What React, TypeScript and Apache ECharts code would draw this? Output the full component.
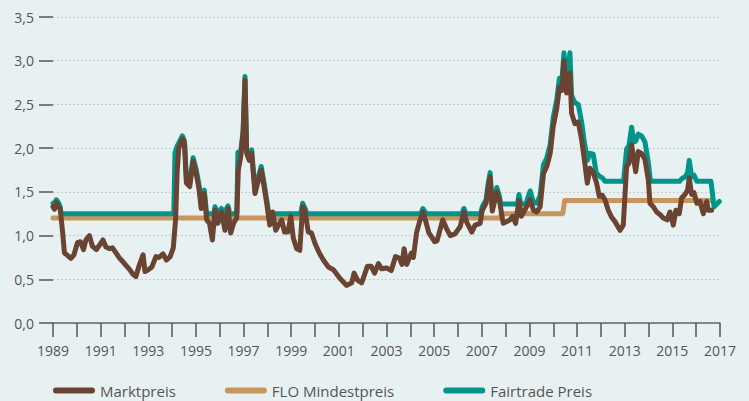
import React, { useEffect, useRef } from "react";
import * as echarts from "echarts";

const yearTicks = [1989, 1991, 1993, 1995, 1997, 1999, 2001, 2003, 2005, 2007, 2009, 2011, 2013, 2015, 2017];

const marktpreis: [number, number][] = [
  [1989.0, 1.33], [1989.06, 1.3], [1989.14, 1.38], [1989.22, 1.33], [1989.3, 1.31], [1989.4, 1.05],
  [1989.48, 0.8], [1989.58, 0.78], [1989.75, 0.74], [1989.88, 0.78], [1990.03, 0.92], [1990.15, 0.93],
  [1990.28, 0.84], [1990.38, 0.95], [1990.53, 1.0], [1990.65, 0.88], [1990.82, 0.84], [1990.95, 0.89],
  [1991.1, 0.95], [1991.22, 0.87], [1991.38, 0.85], [1991.5, 0.86], [1991.65, 0.8], [1991.8, 0.74],
  [1992.0, 0.68], [1992.22, 0.61], [1992.35, 0.56], [1992.48, 0.53], [1992.62, 0.66], [1992.78, 0.78],
  [1992.86, 0.59], [1993.0, 0.61], [1993.15, 0.64], [1993.32, 0.76], [1993.45, 0.75], [1993.62, 0.79],
  [1993.76, 0.72], [1993.92, 0.76], [1994.05, 0.86], [1994.15, 1.2], [1994.21, 1.72], [1994.28, 2.0],
  [1994.43, 2.11], [1994.52, 2.05], [1994.6, 1.6], [1994.74, 1.56], [1994.88, 1.85], [1995.0, 1.72],
  [1995.12, 1.55], [1995.22, 1.31], [1995.35, 1.48], [1995.45, 1.18], [1995.57, 1.14], [1995.69, 0.95],
  [1995.8, 1.29], [1995.92, 1.14], [1996.07, 1.27], [1996.22, 1.06], [1996.35, 1.31], [1996.46, 1.03],
  [1996.58, 1.14], [1996.71, 1.2], [1996.78, 1.75], [1996.88, 1.9], [1996.98, 2.17], [1997.06, 2.78],
  [1997.13, 1.94], [1997.24, 1.86], [1997.34, 1.94], [1997.48, 1.48], [1997.58, 1.59], [1997.74, 1.75],
  [1997.86, 1.56], [1997.97, 1.37], [1998.1, 1.12], [1998.22, 1.27], [1998.35, 1.06], [1998.47, 1.12],
  [1998.6, 1.18], [1998.72, 1.04], [1998.86, 1.04], [1998.98, 1.22], [1999.09, 0.97], [1999.23, 0.85],
  [1999.36, 0.83], [1999.48, 1.33], [1999.58, 1.27], [1999.72, 1.04], [1999.85, 1.03], [2000.0, 0.91],
  [2000.18, 0.8], [2000.35, 0.72], [2000.56, 0.64], [2000.77, 0.61], [2001.05, 0.51], [2001.33, 0.43],
  [2001.54, 0.46], [2001.64, 0.57], [2001.78, 0.49], [2001.96, 0.46], [2002.2, 0.65], [2002.35, 0.65],
  [2002.5, 0.57], [2002.66, 0.68], [2002.8, 0.62], [2003.0, 0.63], [2003.2, 0.6], [2003.38, 0.76],
  [2003.55, 0.74], [2003.65, 0.67], [2003.74, 0.85], [2003.85, 0.67], [2004.04, 0.8], [2004.13, 0.75],
  [2004.26, 1.03], [2004.4, 1.17], [2004.53, 1.27], [2004.64, 1.17], [2004.78, 1.03], [2005.02, 0.93],
  [2005.12, 0.94], [2005.36, 1.18], [2005.52, 1.08], [2005.68, 1.0], [2005.88, 1.02], [2006.09, 1.1],
  [2006.25, 1.27], [2006.37, 1.15], [2006.58, 1.04], [2006.72, 1.12], [2006.93, 1.14], [2007.02, 1.29],
  [2007.18, 1.37], [2007.27, 1.55], [2007.35, 1.67], [2007.44, 1.28], [2007.63, 1.5], [2007.74, 1.4],
  [2007.9, 1.14], [2008.05, 1.16], [2008.19, 1.18], [2008.3, 1.22], [2008.42, 1.14], [2008.56, 1.4],
  [2008.66, 1.22], [2008.8, 1.29], [2009.03, 1.41], [2009.17, 1.29], [2009.31, 1.27], [2009.45, 1.33],
  [2009.59, 1.71], [2009.73, 1.79], [2009.87, 1.94], [2010.0, 2.25], [2010.15, 2.46], [2010.26, 2.7],
  [2010.36, 2.66], [2010.45, 3.0], [2010.56, 2.63], [2010.7, 2.86], [2010.77, 2.4], [2010.91, 2.28],
  [2011.05, 2.3], [2011.19, 2.1], [2011.3, 1.88], [2011.43, 1.6], [2011.54, 1.77], [2011.68, 1.72],
  [2011.82, 1.6], [2011.93, 1.45], [2012.06, 1.46], [2012.17, 1.41], [2012.31, 1.29], [2012.45, 1.21],
  [2012.59, 1.16], [2012.8, 1.06], [2012.94, 1.12], [2013.08, 1.79], [2013.18, 1.83], [2013.29, 2.04],
  [2013.38, 1.87], [2013.46, 1.73], [2013.57, 1.96], [2013.71, 1.94], [2013.85, 1.87], [2013.99, 1.64],
  [2014.06, 1.37], [2014.2, 1.33], [2014.34, 1.27], [2014.48, 1.24], [2014.62, 1.2], [2014.78, 1.18],
  [2014.9, 1.27], [2015.04, 1.12], [2015.15, 1.29], [2015.29, 1.25], [2015.39, 1.43], [2015.53, 1.47],
  [2015.64, 1.52], [2015.71, 1.66], [2015.81, 1.47], [2015.91, 1.49], [2016.03, 1.37], [2016.16, 1.39],
  [2016.3, 1.25], [2016.44, 1.39], [2016.51, 1.29], [2016.65, 1.29],
];

const floMindestpreis: [number, number][] = [
  [1989.0, 1.2], [2007.76, 1.2], [2007.82, 1.25], [2010.4, 1.25], [2010.48, 1.4], [2016.65, 1.4],
];

const fairtradePreis: [number, number][] = [
  [1989.0, 1.37], [1989.06, 1.35], [1989.14, 1.41], [1989.24, 1.37], [1989.3, 1.33], [1989.34, 1.25],
  [1994.07, 1.25], [1994.12, 1.95], [1994.21, 2.02], [1994.3, 2.07], [1994.43, 2.14], [1994.52, 2.08],
  [1994.6, 1.65], [1994.74, 1.61], [1994.88, 1.89], [1995.0, 1.77], [1995.12, 1.6], [1995.22, 1.38],
  [1995.35, 1.52], [1995.45, 1.25], [1995.75, 1.25], [1995.8, 1.33], [1995.92, 1.25], [1996.07, 1.31],
  [1996.16, 1.25], [1996.35, 1.34], [1996.42, 1.25], [1996.72, 1.25], [1996.76, 1.95], [1996.88, 1.96],
  [1996.98, 2.2], [1997.06, 2.82], [1997.13, 1.98], [1997.24, 1.9], [1997.34, 1.98], [1997.48, 1.52],
  [1997.58, 1.63], [1997.74, 1.79], [1997.86, 1.6], [1997.97, 1.41], [1998.06, 1.25], [1999.4, 1.25],
  [1999.48, 1.37], [1999.58, 1.31], [1999.66, 1.25], [2004.44, 1.25], [2004.53, 1.31], [2004.62, 1.27],
  [2004.7, 1.25], [2006.17, 1.25], [2006.25, 1.31], [2006.33, 1.25], [2006.95, 1.25], [2007.02, 1.33],
  [2007.18, 1.41], [2007.27, 1.6], [2007.35, 1.72], [2007.44, 1.33], [2007.63, 1.55], [2007.74, 1.45],
  [2007.8, 1.36], [2008.5, 1.36], [2008.56, 1.47], [2008.64, 1.36], [2008.85, 1.36], [2009.03, 1.51],
  [2009.17, 1.38], [2009.31, 1.37], [2009.45, 1.46], [2009.59, 1.81], [2009.73, 1.89], [2009.87, 2.04],
  [2010.0, 2.35], [2010.15, 2.56], [2010.26, 2.8], [2010.36, 2.76], [2010.45, 3.09], [2010.56, 2.73],
  [2010.7, 3.09], [2010.77, 2.6], [2010.91, 2.52], [2011.05, 2.5], [2011.19, 2.3], [2011.3, 2.08],
  [2011.43, 1.86], [2011.54, 1.94], [2011.68, 1.93], [2011.8, 1.72], [2011.93, 1.68], [2012.06, 1.66],
  [2012.17, 1.62], [2012.95, 1.62], [2013.08, 1.99], [2013.18, 2.03], [2013.29, 2.24], [2013.38, 2.07],
  [2013.46, 2.08], [2013.57, 2.16], [2013.71, 2.14], [2013.85, 2.07], [2013.99, 1.84], [2014.08, 1.62],
  [2015.3, 1.62], [2015.39, 1.65], [2015.53, 1.67], [2015.64, 1.72], [2015.71, 1.86], [2015.81, 1.67],
  [2015.91, 1.69], [2016.03, 1.62], [2016.62, 1.62], [2016.75, 1.33], [2016.97, 1.39],
];

const legendNames = ["Marktpreis", "FLO Mindestpreis", "Fairtrade Preis"];
const colors = { markt: "#6b4332", flo: "#c8955f", fair: "#00958a" };

const legendIcon = "path://M3,0L39,0A3,3,0,0,1,39,6L3,6A3,3,0,0,1,3,0Z";

export default function App() {
  const ref = useRef<HTMLDivElement>(null);
  useEffect(() => {
    document.body.style.margin = "0";
    const chart = echarts.init(ref.current!, undefined, { renderer: "svg" });
    const font = "'Open Sans', sans-serif";
    const lineSeries = (name: string, data: [number, number][], color: string, z: number) => ({
      name,
      type: "line",
      data,
      showSymbol: false,
      symbol: "none",
      z,
      itemStyle: { color },
      lineStyle: { color, width: 5, cap: "round", join: "round" },
    });
    chart.setOption({
      animation: false,
      backgroundColor: "#e8f1f1",
      textStyle: { fontFamily: font },
      grid: { left: 53, right: 29, top: 17, bottom: 78 },
      legend: {
        data: legendNames,
        left: 48,
        top: 378,
        itemWidth: 42,
        itemHeight: 6,
        itemGap: 49,
        icon: legendIcon,
        textStyle: { fontFamily: font, fontSize: 15, color: "#555" },
      },
      xAxis: {
        type: "value",
        min: 1989,
        max: 2017,
        interval: 1,
        axisLine: { show: true, lineStyle: { color: "#666", width: 1.5 } },
        axisTick: { show: true, length: 14, lineStyle: { color: "#555", width: 1.5 } },
        splitLine: { show: false },
        axisLabel: {
          margin: 20,
          fontSize: 14,
          color: "#555",
          fontFamily: font,
          showMinLabel: true,
          showMaxLabel: true,
          formatter: (v: number) => (yearTicks.includes(Math.round(v)) ? String(Math.round(v)) : ""),
        },
      },
      yAxis: {
        type: "value",
        min: 0,
        max: 3.5,
        interval: 0.5,
        axisLine: { show: false },
        axisTick: { show: true, length: 14, lineStyle: { color: "#555", width: 1.5 } },
        splitLine: { show: true, lineStyle: { color: "#c8cccc", width: 1, type: [2, 2] } },
        axisLabel: {
          margin: 19,
          fontSize: 14,
          color: "#555",
          fontFamily: font,
          formatter: (v: number) => v.toFixed(1).replace(".", ","),
        },
      },
      series: [
        lineSeries("FLO Mindestpreis", floMindestpreis, colors.flo, 1),
        lineSeries("Fairtrade Preis", fairtradePreis, colors.fair, 2),
        lineSeries("Marktpreis", marktpreis, colors.markt, 3),
      ],
    });
    return () => chart.dispose();
  }, []);
  return <div ref={ref} style={{ position: "fixed", left: 0, top: 0, width: 749, height: 401 }} />;
}
